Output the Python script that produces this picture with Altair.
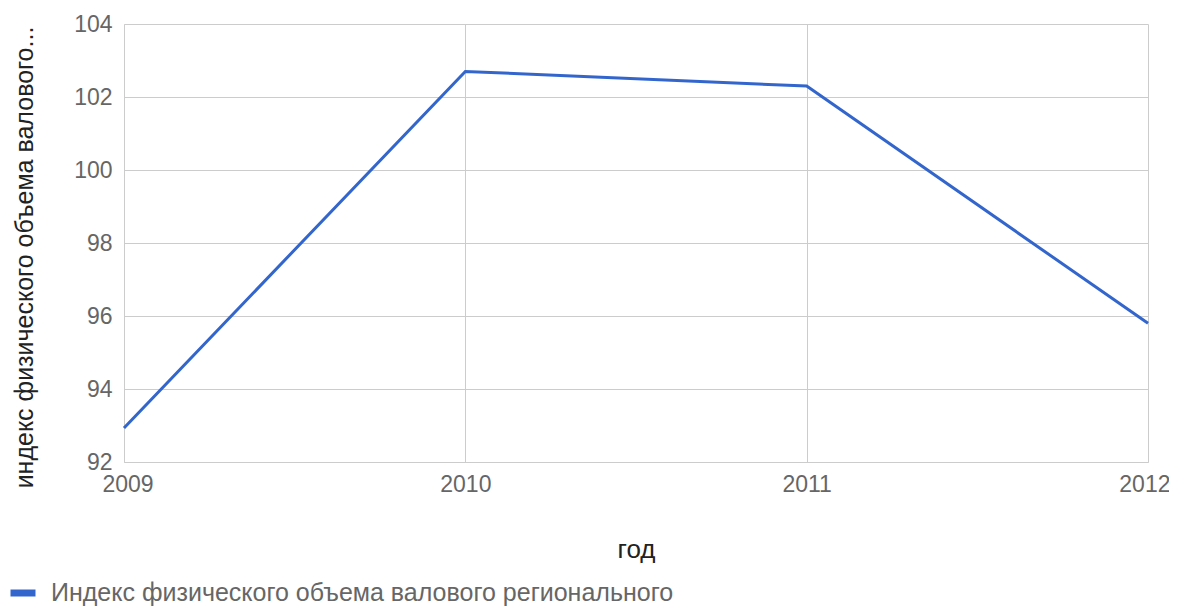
import altair as alt
import pandas as pd

years = [2009, 2010, 2011, 2012]
values = [92.93, 102.7, 102.3, 95.8]
y_ticks = [92, 94, 96, 98, 100, 102, 104]
series = ["Индекс физического объема валового регионального"] * 4

df = pd.DataFrame({"год": years, "value": values, "series": series})

FONT = "Liberation Sans"
FS = 23

chart = alt.Chart(df).mark_line(strokeWidth=3, color="#3366CC").encode(
    x=alt.X("год:Q",
            scale=alt.Scale(domain=[2009, 2012], nice=False, zero=False),
            axis=alt.Axis(values=years, format="d", title="год",
                          labelFontSize=FS, labelColor="#666666", labelPadding=11,
                          labelFont=FONT, labelFlush=True, labelFlushOffset=22,
                          titleFont=FONT, titleFontSize=26, titleFontWeight="normal",
                          titleColor="#222222", titlePadding=40,
                          grid=True, gridColor="#CCCCCC", domainColor="#CCCCCC",
                          ticks=False)),
    y=alt.Y("value:Q",
            scale=alt.Scale(domain=[92, 104], nice=False, zero=False),
            axis=alt.Axis(values=y_ticks,
                          title="индекс физического объема валового...",
                          labelFontSize=FS, labelColor="#666666", labelPadding=12,
                          labelFont=FONT, labelFlush=False,
                          titleFont=FONT, titleFontSize=25, titleFontWeight="normal",
                          titleColor="#222222", titleAngle=270,
                          titleX=-100, titleY=233, titleAlign="center",
                          titleBaseline="middle",
                          grid=True, gridColor="#CCCCCC", domainColor="#CCCCCC",
                          ticks=False)),
    stroke=alt.Stroke("series:N",
                      scale=alt.Scale(range=["#3366CC"]),
                      legend=alt.Legend(title=None, orient="none",
                                        legendX=-117, legendY=553,
                                        symbolType="stroke", symbolStrokeWidth=7,
                                        symbolSize=625, labelOffset=12,
                                        labelFont=FONT, labelFontSize=25,
                                        labelColor="#666666", labelLimit=900)),
).properties(
    width=1024, height=438,
    padding={"left": 116, "top": 16, "right": 21, "bottom": 145},
    autosize=alt.AutoSizeParams(type="none"),
).configure_view(stroke=None)

chart.save("out.html", embed_options={"renderer": "svg", "actions": False})
